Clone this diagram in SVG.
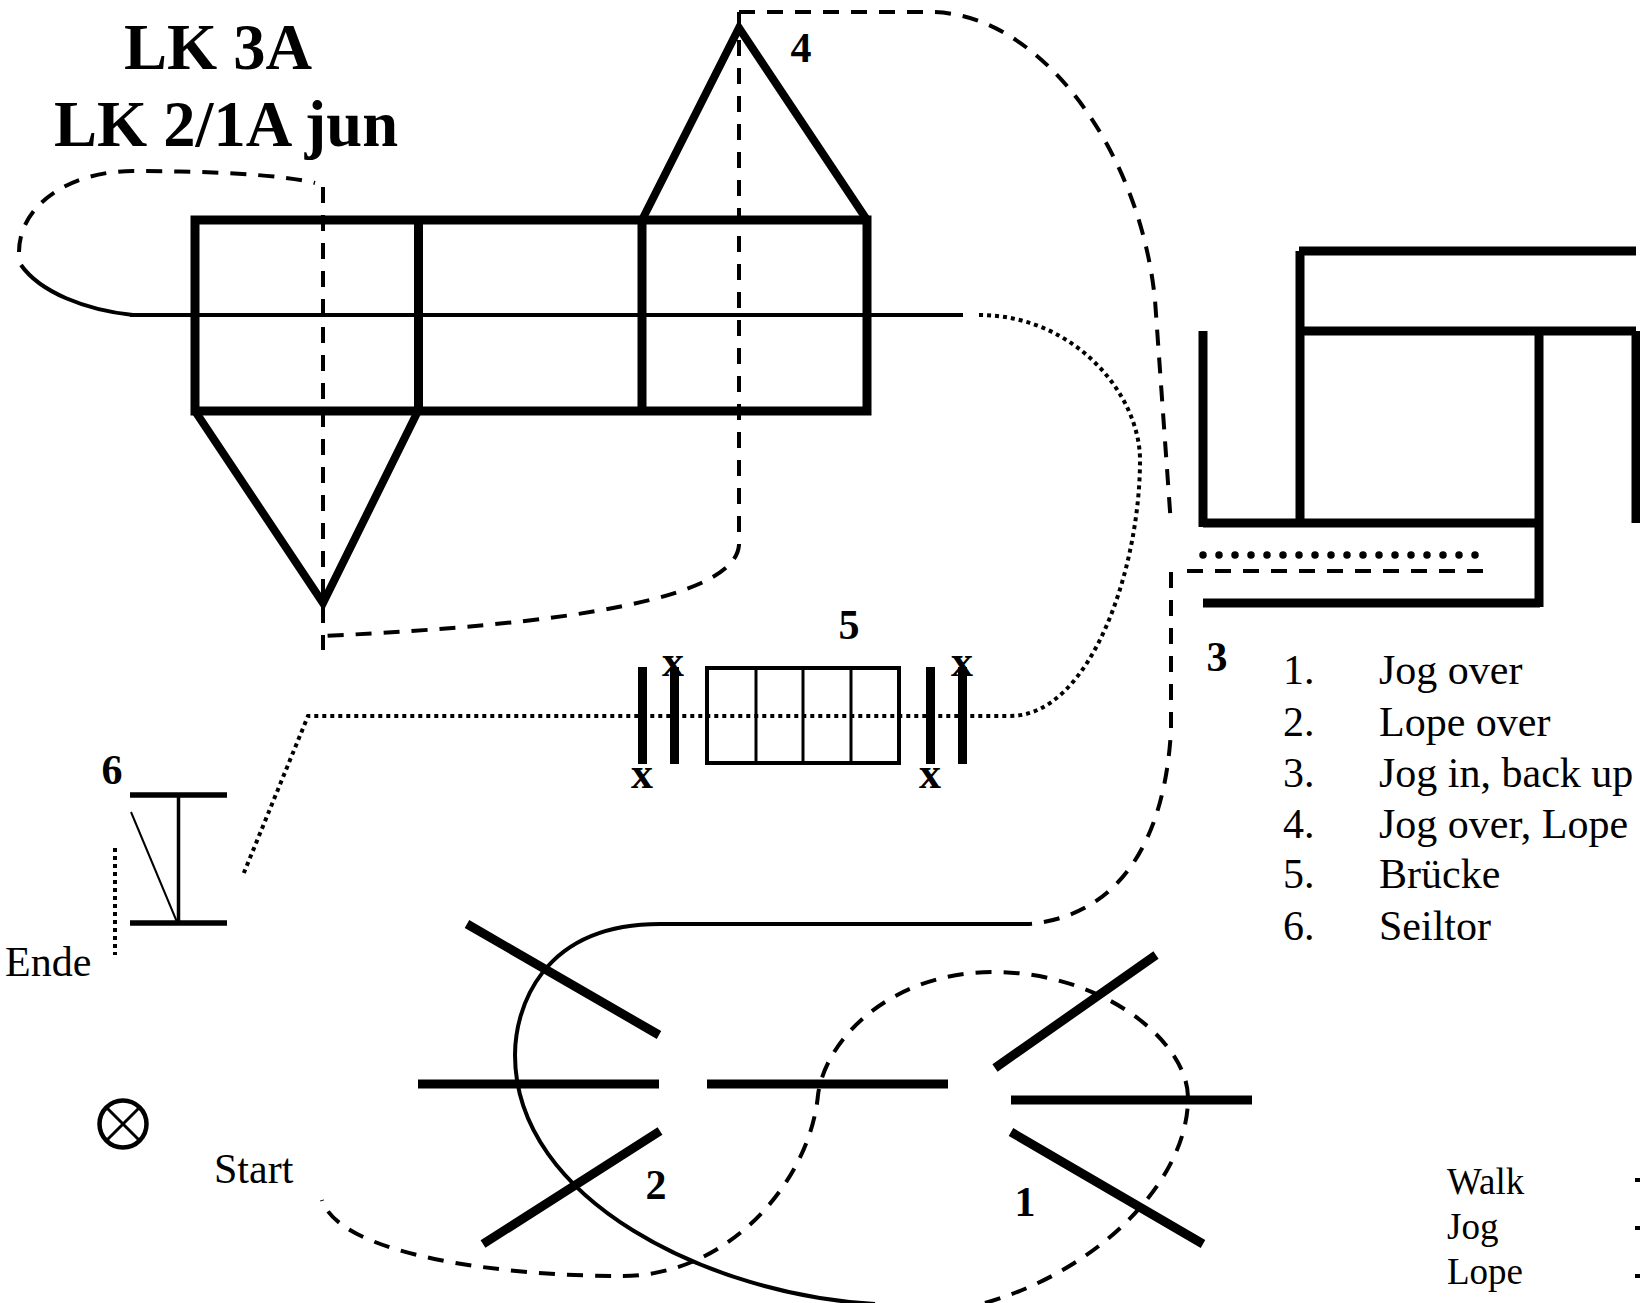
<svg xmlns="http://www.w3.org/2000/svg" width="1640" height="1303" viewBox="0 0 1640 1303">
<style>
text{font-family:"Liberation Serif","Times New Roman",serif;fill:#000}
.b{font-weight:bold;font-size:42px;text-anchor:middle}
.t{font-weight:bold;font-size:64.5px;text-anchor:middle}
.l{font-size:42px}
.x{font-weight:bold;font-size:44px;text-anchor:middle}
.k{fill:none;stroke:#000;stroke-width:9}
.m{fill:none;stroke:#000;stroke-width:4}
.dash{fill:none;stroke:#000;stroke-width:4;stroke-dasharray:16 12}
.dot{fill:none;stroke:#000;stroke-width:4;stroke-dasharray:4 4}
</style>
<rect width="1640" height="1303" fill="#fff"/>
<g id="title"><text class="t" x="218" y="69">LK 3A</text><text class="t" x="226" y="146">LK 2/1A jun</text></g>
<g id="obstacle-4-rect">
<path class="k" d="M195 220H867V411H195Z M418.500 220V411 M642 220V411"/>
<path class="k" style="stroke-width:8" d="M642 220L739 28L867 220 M195 411L323 603L418 411"/>
<text class="b" x="801" y="62">4</text></g>
<g id="obstacle-3">
<path class="k" d="M1203 331V527 M1300 251V527 M1299 251H1636 M1300 331H1636 M1539 331V607 M1636 331V523 M1203 523H1543 M1203 603H1540"/>
<text class="b" x="1217" y="671">3</text></g>
<g id="obstacle-5">
<path class="k" d="M642.500 667V764 M674.500 667V764 M930.500 667V764 M962.500 667V764"/>
<path fill="none" stroke="#000" stroke-width="4" d="M707 668H899V763H707Z"/>
<path fill="none" stroke="#000" stroke-width="3" d="M756 668V763 M803 668V763 M851 668V763"/>
<text class="b" x="849" y="639">5</text>
<text class="x" x="673" y="676">x</text><text class="x" x="642" y="788">x</text><text class="x" x="962" y="676">x</text><text class="x" x="930" y="788">x</text></g>
<g id="obstacle-6">
<path fill="none" stroke="#000" stroke-width="5.500" d="M130 795H227 M130 923H227"/>
<path fill="none" stroke="#000" stroke-width="3.500" d="M178.500 795V923"/>
<path d="M131 812L177 922" fill="none" stroke="#000" stroke-width="2"/>
<text class="b" x="112" y="784">6</text></g>
<g id="ende"><text class="l" x="5" y="976">Ende</text></g>
<g id="start"><text class="l" x="214" y="1183">Start</text>
<circle cx="123" cy="1124" r="23.500" fill="none" stroke="#000" stroke-width="4.500"/>
<path d="M106 1107L140 1141M140 1107L106 1141" stroke="#000" stroke-width="3"/></g>
<g id="obstacle-2"><path class="k" d="M467 924L659 1035 M418 1084H659 M483 1244L660 1131"/><text class="b" x="656" y="1199">2</text></g>
<g id="obstacle-1"><path class="k" d="M707 1084H948 M995 1068L1156 955 M1011 1100H1252 M1011 1132L1203 1244"/><text class="b" x="1025" y="1216">1</text></g>
<g id="legend">
<g class="l"><text x="1283" y="684">1.</text><text x="1379" y="684">Jog over</text>
<text x="1283" y="736">2.</text><text x="1379" y="736">Lope over</text>
<text x="1283" y="787">3.</text><text x="1379" y="787">Jog in, back up</text>
<text x="1283" y="838">4.</text><text x="1379" y="838">Jog over, Lope</text>
<text x="1283" y="888">5.</text><text x="1379" y="888">Brücke</text>
<text x="1283" y="940">6.</text><text x="1379" y="940">Seiltor</text></g>
<g style="font-size:37px"><text x="1447" y="1194">Walk</text><text x="1447" y="1239">Jog</text><text x="1447" y="1284">Lope</text></g>
<path d="M1635 1180H1640M1635 1228H1640M1635 1276H1640" stroke="#000" stroke-width="4"/>
</g>
<g id="connectors">
<path class="m" d="M130 315H963"/>
<path class="m" d="M21 265C40 292 85 310 133 315"/>
<path class="dash" d="M19 252C19 205 70 171 133 171C200 171 280 174 315 183"/>
<path class="dash" d="M323 187V650"/>
<path class="dash" d="M739 12H930C1040 12 1140 150 1155 300L1171 525"/>
<path class="dash" d="M739 12V545C735 600 560 625 323 636"/>
<path class="dash" d="M1171 572V730C1165 840 1120 915 1030 924"/>
<path class="m" d="M1030 924H660C540 924 515 1010 515 1055C515 1200 710 1295 875 1304"/>
<path class="dash" d="M985 1303C1100 1270 1188 1180 1188 1098C1188 1040 1100 972 994 972C890 972 825 1040 818 1095C810 1180 730 1276 622 1276C500 1276 340 1255 322 1200"/>
<path class="dot" d="M115 848V955"/>
<path class="dot" d="M979 315C1075 315 1140 395 1140 460C1140 570 1090 716 1010 716H308L243 875"/>
<path d="M1203 555H1480" fill="none" stroke="#000" stroke-width="7.500" stroke-linecap="round" stroke-dasharray="0 16"/>
<path d="M1187 571H1484" fill="none" stroke="#000" stroke-width="4" stroke-dasharray="16 12"/>
</g>
</svg>
